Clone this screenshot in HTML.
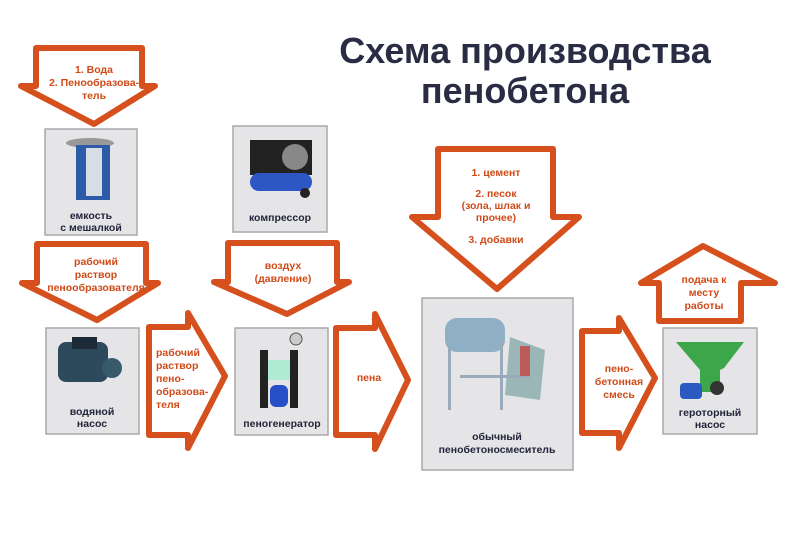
<!DOCTYPE html>
<html><head><meta charset="utf-8"><style>
html,body{margin:0;padding:0;background:#fff;width:800px;height:533px;overflow:hidden}
svg{display:block}
.a{fill:#fff;stroke:#d5501c;stroke-width:6;stroke-linejoin:round}
.t{font-family:"Liberation Sans","DejaVu Sans",sans-serif;font-weight:bold;font-size:10.5px;fill:#d04a18;text-anchor:middle}
.s{font-family:"Liberation Sans","DejaVu Sans",sans-serif;font-weight:bold;font-size:10.5px;fill:#d04a18;text-anchor:start}
.l{font-family:"Liberation Sans","DejaVu Sans",sans-serif;font-weight:bold;font-size:10.5px;fill:#22253a;text-anchor:middle}
.bx{fill:#e5e5e7;stroke:#a8a8aa;stroke-width:1.5}
</style></head><body>
<svg width="800" height="533" viewBox="0 0 800 533" xmlns="http://www.w3.org/2000/svg">
<text x="525" y="63" font-family="Liberation Sans, DejaVu Sans, sans-serif" font-weight="bold" font-size="36" fill="#2a2c43" text-anchor="middle">Схема производства</text>
<text x="525" y="103" font-family="Liberation Sans, DejaVu Sans, sans-serif" font-weight="bold" font-size="36" fill="#2a2c43" text-anchor="middle">пенобетона</text>

<polygon class="a" points="36,48 142,48 142,86 155,86 94,124 21,86 36,86"/>
<text class="t" x="94" y="73">1. Вода</text>
<text class="t" x="94" y="86">2. Пенообразова-</text>
<text class="t" x="94" y="99">тель</text>

<polygon class="a" points="37,244 146,244 146,283 158,283 97,320 22,283 37,283"/>
<text class="t" x="96" y="265">рабочий</text>
<text class="t" x="96" y="278">раствор</text>
<text class="t" x="96" y="291">пенообразователя</text>

<polygon class="a" points="228,243 337,243 337,282 349,282 287,314 214,282 228,282"/>
<text class="t" x="283" y="269">воздух</text>
<text class="t" x="283" y="282">(давление)</text>

<polygon class="a" points="149,327 188,327 188,313 225,376 188,448 188,435 149,435"/>
<text class="s" x="156" y="356">рабочий</text>
<text class="s" x="156" y="369">раствор</text>
<text class="s" x="156" y="382">пено-</text>
<text class="s" x="156" y="395">образова-</text>
<text class="s" x="156" y="408">теля</text>

<polygon class="a" points="336,328 375,328 375,314 408,380 375,449 375,435 336,435"/>
<text class="t" x="369" y="381">пена</text>

<polygon class="a" points="438,149 553,149 553,217 579,217 497,289 412,217 438,217"/>
<text class="t" x="496" y="176">1. цемент</text>
<text class="t" x="496" y="197">2. песок</text>
<text class="t" x="496" y="209">(зола, шлак и</text>
<text class="t" x="496" y="221">прочее)</text>
<text class="t" x="496" y="243">3. добавки</text>

<polygon class="a" points="582,331 619,331 619,318 655,378 619,448 619,433 582,433"/>
<text class="t" x="619" y="372">пено-</text>
<text class="t" x="619" y="385">бетонная</text>
<text class="t" x="619" y="398">смесь</text>

<polygon class="a" points="659,321 741,321 741,283 775,283 703,246 641,283 659,283"/>
<text class="t" x="704" y="283">подача к</text>
<text class="t" x="704" y="296">месту</text>
<text class="t" x="704" y="309">работы</text>

<rect class="bx" x="45" y="129" width="92" height="106"/>
<ellipse cx="90" cy="143" rx="24" ry="5" fill="#999"/>
<rect x="76" y="145" width="34" height="55" fill="#2c5ba8"/>
<rect x="86" y="148" width="16" height="48" fill="#d8dce4"/>
<text class="l" x="91" y="219">емкость</text>
<text class="l" x="91" y="231">с мешалкой</text>

<rect class="bx" x="233" y="126" width="94" height="106"/>
<rect x="250" y="140" width="62" height="35" fill="#222"/>
<circle cx="295" cy="157" r="13" fill="#888"/>
<rect x="250" y="173" width="62" height="18" rx="9" fill="#2d57c4"/>
<circle cx="305" cy="193" r="5" fill="#222"/>
<text class="l" x="280" y="221">компрессор</text>

<rect class="bx" x="46" y="328" width="93" height="106"/>
<rect x="58" y="342" width="50" height="40" rx="8" fill="#2c4a5c"/>
<rect x="72" y="337" width="25" height="12" fill="#1b2a36"/>
<circle cx="112" cy="368" r="10" fill="#385a6c"/>
<text class="l" x="92" y="415">водяной</text>
<text class="l" x="92" y="427">насос</text>

<rect class="bx" x="235" y="328" width="93" height="107"/>
<rect x="260" y="350" width="8" height="58" fill="#222"/>
<rect x="290" y="350" width="8" height="58" fill="#222"/>
<circle cx="296" cy="339" r="6" fill="#ccc" stroke="#555"/>
<rect x="268" y="360" width="22" height="20" fill="#9ec" opacity=".7"/>
<rect x="270" y="385" width="18" height="22" rx="6" fill="#2550c8"/>
<text class="l" x="282" y="427">пеногенератор</text>

<rect class="bx" x="422" y="298" width="151" height="172"/>
<rect x="445" y="318" width="60" height="34" rx="12" fill="#8fb0c4"/>
<polygon points="510,337 545,350 540,400 505,395" fill="#8aa" opacity=".8"/>
<rect x="448" y="348" width="3" height="62" fill="#9ab"/>
<rect x="500" y="340" width="3" height="70" fill="#9ab"/>
<rect x="460" y="375" width="70" height="3" fill="#9ab"/>
<rect x="520" y="346" width="10" height="30" fill="#c33" opacity=".7"/>
<text class="l" x="497" y="440">обычный</text>
<text class="l" x="497" y="453">пенобетоносмеситель</text>

<rect class="bx" x="663" y="328" width="94" height="106"/>
<polygon points="676,342 744,342 724,368 710,375 700,370" fill="#3ca64a"/>
<rect x="700" y="370" width="20" height="22" fill="#3ca64a"/>
<rect x="680" y="383" width="22" height="16" rx="4" fill="#2a59c0"/>
<circle cx="717" cy="388" r="7" fill="#333"/>
<text class="l" x="710" y="416">геротoрный</text>
<text class="l" x="710" y="428">насос</text>
</svg>
</body></html>
